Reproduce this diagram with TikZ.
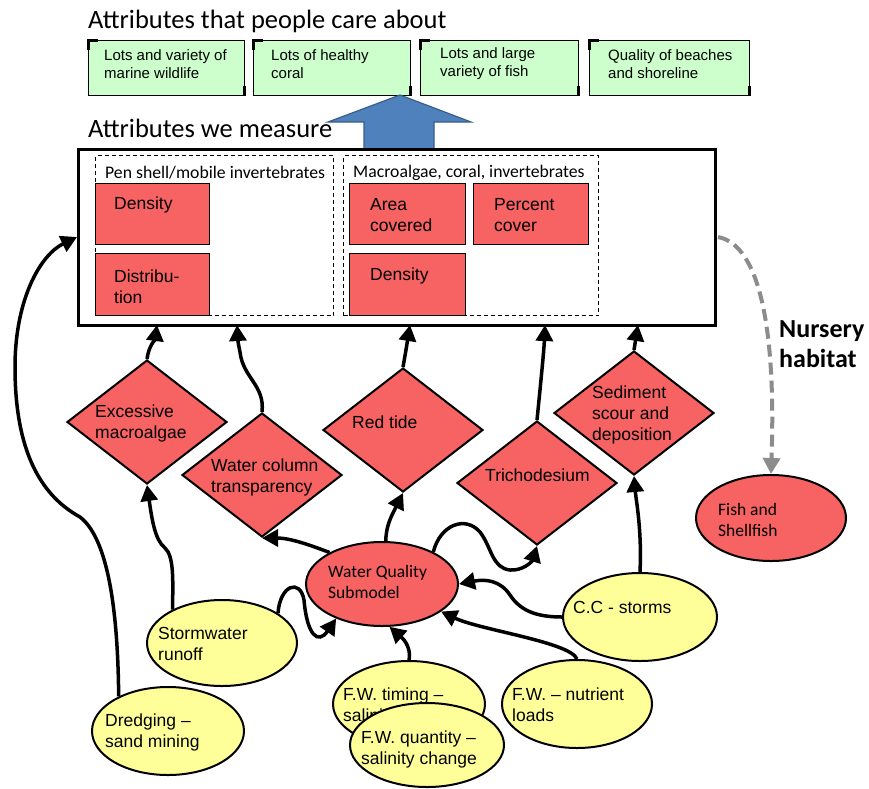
\documentclass[tikz,border=0pt]{standalone}
\usepackage{fontspec}
\setmainfont{Liberation Sans}
\newfontfamily\calfont{Carlito}
\usetikzlibrary{arrows.meta,shapes.geometric,calc}
\definecolor{redfill}{RGB}{247,98,98}
\definecolor{yellowfill}{RGB}{255,255,153}
\definecolor{greenfill}{RGB}{204,255,204}
\definecolor{bluefill}{RGB}{79,129,189}
\definecolor{blueedge}{RGB}{56,93,138}
\definecolor{nursgray}{RGB}{140,140,140}
\begin{document}
\begin{tikzpicture}[x=1pt,y=-1pt,
  shp/.style={draw=black, line width=2pt},
  dia/.style={shp, diamond, fill=redfill, minimum width=160pt, minimum height=124pt, inner sep=0pt},
  ell/.style={shp, ellipse, inner sep=0pt},
  yell/.style={ell, fill=yellowfill},
  rell/.style={ell, fill=redfill},
  rbox/.style={draw=black, line width=1.2pt, fill=redfill, anchor=north west, inner sep=0pt},
  gbox/.style={draw=black, line width=1.3pt, fill=greenfill, anchor=north west, inner sep=0pt, minimum height=55pt},
  dbox/.style={draw=black, dash pattern=on 4pt off 3pt, line width=1.2pt, anchor=north west, inner sep=0pt, minimum height=160pt},
  txt/.style={anchor=west, inner sep=0pt, align=left, font=\fontsize{17.5pt}{21pt}\selectfont},
  ctxt/.style={anchor=west, inner sep=0pt, align=left, font=\calfont\fontsize{17.5pt}{21pt}\selectfont},
  gtxt/.style={anchor=west, inner sep=0pt, align=left, font=\fontsize{15pt}{18pt}\selectfont},
  head/.style={anchor=base west, inner sep=0pt, font=\calfont\fontsize{26.5pt}{31pt}\selectfont},
  arr/.style={line width=3.5pt, -{Triangle[length=16pt,width=17pt]}},
  corner/.style={line width=3pt}
]
\path[use as bounding box] (0,0) rectangle (869,788);

% headings
\node[head] (h1) at (88,28) {Attributes that people care about};
\node[head] (h2) at (88,137) {Attributes we measure};

% green boxes
\node[gbox, minimum width=156pt] (g1) at (88,40) {};
\node[gbox, minimum width=157pt] (g2) at (253,40) {};
\node[gbox, minimum width=158pt] (g3) at (420,40) {};
\node[gbox, minimum width=160pt] (g4) at (589,40) {};
\foreach \b in {g1,g2,g3,g4}{
  \draw[corner] ($(\b.north west)+(0.5,10)$) -- ($(\b.north west)+(0.5,0.5)$) -- ($(\b.north west)+(10,0.5)$);
  \draw[corner] ($(\b.south east)+(-0.5,-10)$) -- ($(\b.south east)+(-0.5,-0.5)$);
}
\node[gtxt] (tg1) at (104,64) {Lots and variety of\\marine wildlife};
\node[gtxt] (tg2) at (271,64) {Lots of healthy\\coral};
\node[gtxt] (tg3) at (440,64) {Lots and large\\variety of fish};
\node[gtxt] (tg4) at (608,64) {Quality of beaches\\and shoreline};

% blue block arrow
\draw[fill=bluefill, draw=blueedge, line width=1.2pt] (364,149) -- (364,122) -- (328,122) -- (400,95) -- (471,122) -- (434,122) -- (434,149) -- cycle;

% measure frame
\node[draw=black, line width=2.5pt, anchor=north west, inner sep=0pt, minimum width=637pt, minimum height=176pt] (box) at (77,148) {};

% red measure boxes
\node[rbox, minimum width=114pt, minimum height=61pt] (d1) at (95,183) {};
\node[rbox, minimum width=114pt, minimum height=62pt] (dist) at (95,253) {};
\node[rbox, minimum width=116pt, minimum height=61pt] (area) at (349,183) {};
\node[rbox, minimum width=115pt, minimum height=61pt] (pct) at (473,183) {};
\node[rbox, minimum width=116pt, minimum height=62pt] (d2) at (349,253) {};
\node[dbox, minimum width=238pt] (pen) at (95,155) {};
\node[dbox, minimum width=255pt] (mac) at (343,155) {};
\node[ctxt, font=\calfont\fontsize{17.7pt}{21pt}\selectfont] (tpen) at (105,173) {Pen shell/mobile invertebrates};
\node[ctxt, font=\calfont\fontsize{17.7pt}{21pt}\selectfont] (tmac) at (353,173) {Macroalgae, coral, invertebrates};
\node[txt] (td1) at (114,205) {Density};
\node[txt] (tdist) at (114,286.5) {Distribu-\\tion};
\node[txt] (tarea) at (370,215.5) {Area\\covered};
\node[txt] (tpct) at (494,215.5) {Percent\\cover};
\node[txt] (td2) at (370,276) {Density};

% diamonds
\node[dia] (excess) at (147,422) {};
\node[dia] (watercol) at (262,475) {};
\node[dia] (redtide) at (403,430) {};
\node[dia] (tricho) at (537,483) {};
\node[dia] (sed) at (634,413) {};
\node[txt] (texcess) at (95,423.5) {Excessive\\macroalgae};
\node[txt] (twater) at (211,477) {Water column\\transparency};
\node[txt] (tred) at (352,422) {Red tide};
\node[txt] (ttricho) at (485,475) {Trichodesium};
\node[txt] (tsed) at (592,415) {Sediment\\scour and\\deposition};

% ellipses
\node[rell, minimum width=152pt, minimum height=84pt] (wq) at (382,584) {};
\node[ctxt] (twq) at (328,581.5) {Water Quality\\Submodel};
\node[rell, minimum width=150pt, minimum height=86pt] (fish) at (771,518) {};
\node[ctxt] (tfish) at (718,519.5) {Fish and\\Shellfish};
\node[yell, minimum width=150pt, minimum height=86pt] (storm) at (222,643) {};
\node[txt] (tstorm) at (158,643.5) {Stormwater\\runoff};
\node[yell, minimum width=152pt, minimum height=88pt] (dredge) at (168,731) {};
\node[txt] (tdredge) at (105,732.5) {Dredging –\\sand mining};
\node[yell, minimum width=152pt, minimum height=86pt] (timing) at (409,704) {};
\node[txt] (ttiming) at (343,706) {F.W. timing –\\salinity};
\node[yell, minimum width=154pt, minimum height=84pt] (quant) at (427,745) {};
\node[txt] (tquant) at (361,749.5) {F.W. quantity –\\salinity change};
\node[yell, minimum width=150pt, minimum height=88pt] (nutr) at (577,704) {};
\node[txt] (tnutr) at (512,705) {F.W. – nutrient\\loads};
\node[yell, minimum width=154pt, minimum height=88pt] (cc) at (640,617) {};
\node[txt] (tcc) at (573,607) {C.C - storms};

% nursery label
\node[anchor=west, inner sep=0pt, align=left, font=\calfont\bfseries\fontsize{26pt}{30pt}\selectfont] (nurslbl) at (779,344) {Nursery\\habitat};

% target points on the frame
\coordinate (b1) at (157,325);
\coordinate (b2) at (237,325);
\coordinate (b3) at (410,325);
\coordinate (b4) at (545,325);
\coordinate (b5) at (638,325);
\coordinate (boxL) at (77,237);
\coordinate (nurs) at (718,237);

% connectors into frame
\draw[arr] (excess.north) .. controls (149,345) and (155,340) .. (b1);
\draw[arr] (watercol.north) .. controls (265,385) and (243,378) .. (240,352) .. controls (238,342) .. (b2);
\draw[arr] (redtide.north) .. controls (406,350) .. (b3);
\draw[arr] (tricho.north) .. controls (541,380) and (544,350) .. (b4);
\draw[arr] (sed.north) -- (b5);
\draw[arr] (dredge.145) .. controls (118,620) and (110,540) .. (80,517) .. controls (40,495) and (15,450) .. (15,367) .. controls (15,300) and (40,255) .. (boxL);

% connectors to diamonds and water quality
\draw[arr] (storm.146) .. controls (173,580) and (174,556) .. (165,548) .. controls (155,540) and (152,520) .. (excess.south);
\draw[arr] (storm.28) .. controls (280,585) and (300,578) .. (304,600) .. controls (307,635) and (318,645) .. (wq.217);
\draw[arr] (wq.149) .. controls (310,545) and (290,538) .. (watercol.south);
\draw[arr] (wq.85) .. controls (386,525) and (392,515) .. (redtide.south);
\draw[arr] (wq.32) .. controls (440,525) and (465,515) .. (480,532) .. controls (492,548) and (492,568) .. (510,570) .. controls (522,571) and (532,562) .. (tricho.south);
\draw[arr] (cc.west) .. controls (535,617) and (520,610) .. (510,595) .. controls (500,580) and (485,579) .. (wq.east);
\draw[arr] (nutr.north) .. controls (570,642) and (480,630) .. (wq.335);
\draw[arr] (timing.north) .. controls (412,645) and (400,636) .. (wq.280);
\draw[arr] (cc.north) .. controls (642,530) and (636,500) .. (sed.south);

% nursery habitat dashed arrow
\draw[draw=nursgray, line width=4pt, dash pattern=on 12pt off 6pt, -{Triangle[length=16pt,width=17pt,fill=nursgray]}] (nurs) .. controls (760,245) and (776,330) .. (fish.north);
\end{tikzpicture}
\end{document}
